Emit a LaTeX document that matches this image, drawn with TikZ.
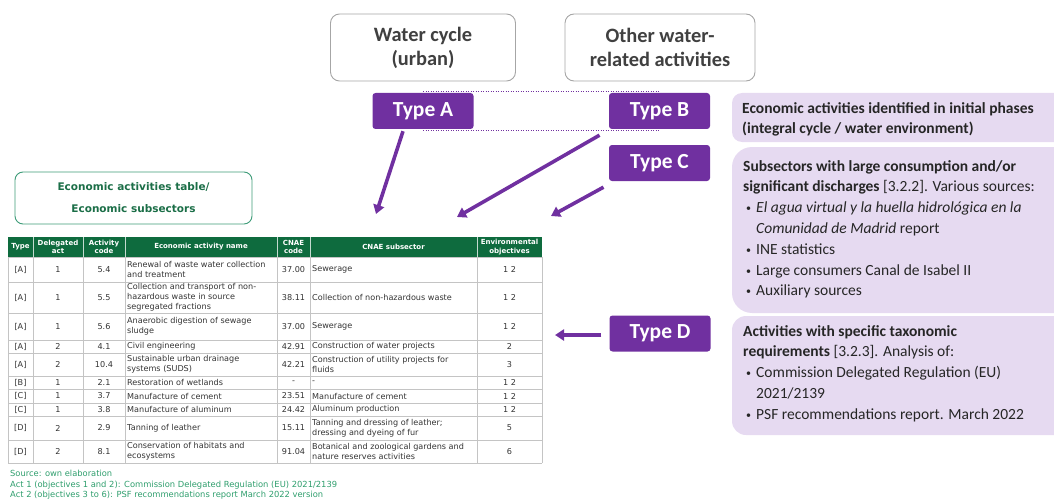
\documentclass[tikz,border=0pt]{standalone}
\usepackage{fontspec}
\usepackage{graphicx}
\setmainfont{Carlito}
\newfontfamily\verd{DejaVu Sans}
\usetikzlibrary{arrows.meta}

\definecolor{typepurple}{HTML}{7030A0}
\definecolor{lightpurple}{HTML}{E6DAF1}
\definecolor{headgreen}{HTML}{0E6B3E}
\definecolor{titlegreen}{HTML}{1B6E47}
\definecolor{titleborder}{HTML}{3D9B78}
\definecolor{notegreen}{HTML}{2F9E6D}
\definecolor{gridgray}{HTML}{C4C4C4}
\definecolor{bodytext}{HTML}{333333}

% one body row of the table: id, centre y, then the seven cells
\newcommand\tabrow[9]{%
  \node[cellc] (#1-t) at (20.5,#2) {#3};
  \node[cellc] (#1-a) at (58,#2) {#4};
  \node[cellc] (#1-c) at (104,#2) {#5};
  \node[celll] (#1-n) at (127,#2) {#6};
  \node[cellc] (#1-k) at (293.5,#2) {#7};
  \node[celll] (#1-s) at (312,#2) {#8};
  \node[cellc] (#1-o) at (509.5,#2) {#9};
}
% small bullet for the lists in the information boxes
\newcommand\pbul{\makebox[13pt][l]{\hspace{3pt}\raisebox{1pt}{\fontsize{10}{10}\selectfont•}}}

\begin{document}
\begin{tikzpicture}[x=1pt,y=-1pt,
  topbox/.style={draw=black!35, line width=0.9pt, rounded corners=9pt, fill=white,
    text=black!75, align=center, font=\bfseries\fontsize{20.4}{24}\selectfont},
  typebox/.style={fill=typepurple, rounded corners=3pt, text=white,
    minimum width=101pt, minimum height=36pt, inner sep=0pt,
    font=\bfseries\fontsize{21.5}{22}\selectfont},
  flow/.style={typepurple, line width=3.6pt, -{Triangle[length=9pt,width=11pt]}},
  linkdots/.style={draw=typepurple, line width=0.8pt, dash pattern=on 1.2pt off 1.3pt},
  infobox/.style={fill=lightpurple},
  infotext/.style={anchor=north west, align=left, inner sep=0pt, text=black!85,
    font=\fontsize{15.5}{20.8}\selectfont},
  cellc/.style={align=center, inner sep=0pt, text=bodytext,
    font=\verd\fontsize{8.1}{10}\selectfont},
  celll/.style={cellc, anchor=west, align=left},
  headcell/.style={align=center, inner sep=0pt, text=white,
    font=\verd\bfseries\fontsize{7}{8.6}\selectfont},
  note/.style={anchor=west, inner sep=0pt, text=notegreen,
    font=\verd\fontsize{8.4}{9}\selectfont}]

\useasboundingbox (0,0) rectangle (1054,500);
\clip (0,0) rectangle (1054,500);

% source boxes
\node[topbox, minimum width=185pt, minimum height=67pt] (urban) at (423,47.5)
  {\raisebox{-2pt}{Water cycle}\\\raisebox{-2pt}{(urban)}};
\node[topbox, minimum width=190pt, minimum height=67pt] (other) at (660,47.5)
  {\raisebox{-2pt}{Other water-}\\\raisebox{-2pt}{related activities}};

% type labels
\node[typebox] (typeA) at (423,111) {Type A};
\node[typebox] (typeB) at (659.5,111) {Type B};
\node[typebox] (typeC) at (659.5,163) {Type C};
\node[typebox] (typeD) at (660,333.5) {Type D};
\draw[linkdots] ([yshift=1pt]typeA.north) -- ([yshift=1pt]typeB.north);
\draw[linkdots] ([yshift=-1pt]typeA.south) -- ([yshift=-1pt]typeB.south);

% arrows towards the table
\coordinate (endA) at (376,214);
\coordinate (endB) at (457,217);
\coordinate (endC) at (551,216);
\coordinate (endD) at (555,335);
\draw[flow] ([xshift=-20pt,yshift=-2pt]typeA.south) -- (endA);
\draw[flow] ([xshift=-60pt,yshift=-6pt]typeB.south) -- (endB);
\draw[flow] ([xshift=-56pt,yshift=-6pt]typeC.south) -- (endC);
\draw[flow] ([xshift=-8pt,yshift=-1.5pt]typeD.west) -- (endD);

% information boxes on the right
\fill[infobox, rounded corners=10pt] (732,93) rectangle (1080,142);
\fill[infobox, rounded corners=20pt] (732,147) rectangle (1080,313);
\fill[infobox, rounded corners=14pt] (732,316) rectangle (1080,435);

\node[infotext] (phases) at (742,102)
  {\textbf{Economic activities identified in initial phases}\\
   \textbf{(integral cycle / water environment)}};
\node[infotext] (sources) at (743,160)
  {\textbf{Subsectors with large consumption and/or}\\
   \textbf{significant discharges} [3.2.2]. Various sources:\\
   \pbul\textit{El agua virtual y la huella hidrológica en la}\\
   \hspace*{13pt}\textit{Comunidad de Madrid} report\\
   \pbul INE statistics\\
   \pbul Large consumers Canal de Isabel II\\
   \pbul Auxiliary sources};
\node[infotext] (taxo) at (743,325)
  {\textbf{Activities with specific taxonomic}\\
   \textbf{requirements} [3.2.3]. Analysis of:\\
   \pbul Commission Delegated Regulation (EU)\\
   \hspace*{13pt}2021/2139\\
   \pbul PSF recommendations report. March 2022};

% table title
\node[draw=titleborder, line width=0.9pt, rounded corners=8pt, minimum width=237pt,
  minimum height=52pt, align=center, text=titlegreen,
  font=\verd\bfseries\fontsize{10.5}{22}\selectfont] (tabtitle) at (133.5,198)
  {Economic activities table/\\Economic subsectors};

% table header
\fill[headgreen] (8,237) rectangle (542,257);
\foreach \x in {33,83,125,277,310,477}
  \draw[white!75!headgreen, line width=0.5pt] (\x,237) -- (\x,257);
\node[headcell] (h-t) at (20.5,247) {Type};
\node[headcell] (h-a) at (58,247) {Delegated\\act};
\node[headcell] (h-c) at (104,247) {Activity\\code};
\node[headcell] (h-n) at (201,247) {Economic activity name};
\node[headcell] (h-k) at (293.5,247) {CNAE\\code};
\node[headcell] (h-s) at (393.5,247) {CNAE subsector};
\node[headcell] (h-o) at (509.5,247) {Environmental\\objectives};

% table grid
\foreach \y in {257,282,313,340,353,376,389,403,416,440,463}
  \draw[gridgray, line width=0.9pt] (8,\y) -- (542,\y);
\foreach \x in {8,33,83,125,277,310,477,542}
  \draw[gridgray, line width=0.9pt] (\x,257) -- (\x,463);

% table body
\tabrow{r1}{269.5}{[A]}{1}{5.4}{Renewal of waste water collection\\and treatment}{37.00}{Sewerage}{1 2}
\tabrow{r2}{297.5}{[A]}{1}{5.5}{Collection and transport of non-\\hazardous waste in source\\segregated fractions}{38.11}{Collection of non-hazardous waste}{1 2}
\tabrow{r3}{326.5}{[A]}{1}{5.6}{Anaerobic digestion of sewage\\sludge}{37.00}{Sewerage}{1 2}
\tabrow{r4}{346.5}{[A]}{2}{4.1}{Civil engineering}{42.91}{Construction of water projects}{2}
\tabrow{r5}{364.5}{[A]}{2}{10.4}{Sustainable urban drainage\\systems (SUDS)}{42.21}{Construction of utility projects for\\fluids}{3}
\tabrow{r6}{382.5}{[B]}{1}{2.1}{Restoration of wetlands}{-}{-}{1 2}
\tabrow{r7}{396}{[C]}{1}{3.7}{Manufacture of cement}{23.51}{Manufacture of cement}{1 2}
\tabrow{r8}{409.5}{[C]}{1}{3.8}{Manufacture of aluminum}{24.42}{Aluminum production}{1 2}
\tabrow{r9}{428}{[D]}{2}{2.9}{Tanning of leather}{15.11}{Tanning and dressing of leather;\\dressing and dyeing of fur}{5}
\tabrow{r10}{451.5}{[D]}{2}{8.1}{Conservation of habitats and\\ecosystems}{91.04}{Botanical and zoological gardens and\\nature reserves activities}{6}

% notes under the table
\node[note] (src) at (10,473) {\resizebox{102pt}{\height}{Source: own elaboration}};
\node[note] (act1) at (10,485) {\resizebox{327pt}{\height}{Act 1 (objectives 1 and 2): Commission Delegated Regulation (EU) 2021/2139}};
\node[note] (act2) at (10,495.5) {\resizebox{313pt}{\height}{Act 2 (objectives 3 to 6): PSF recommendations report March 2022 version}};
\end{tikzpicture}
\end{document}
